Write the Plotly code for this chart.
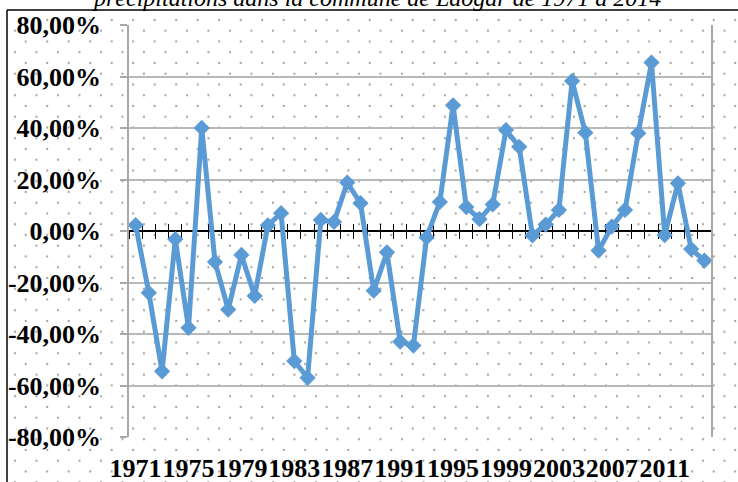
import base64
import plotly.graph_objects as go

# ---- data ----
years = list(range(1971, 2015))
anomalies = [2.3, -24.0, -54.5, -3.2, -37.6, 40.0, -12.0, -30.5, -9.3, -25.2,
             2.2, 6.9, -50.5, -57.0, 4.3, 3.5, 18.8, 10.8, -23.2, -8.3,
             -43.0, -44.5, -2.5, 11.3, 48.8, 9.3, 4.6, 10.3, 39.2, 32.7,
             -1.7, 2.5, 8.2, 58.3, 38.2, -7.6, 1.7, 8.2, 38.0, 65.4,
             -1.6, 18.5, -7.0, -11.5]
x_tick_years = list(range(1971, 2012, 4))
x_tick_labels = [str(y) for y in x_tick_years]
y_tick_values = [80, 60, 40, 20, 0, -20, -40, -60, -80]
y_tick_labels = ["80,00%", "60,00%", "40,00%", "20,00%", "0,00%",
                 "-20,00%", "-40,00%", "-60,00%", "-80,00%"]
boundaries = [y - 0.5 for y in years] + [years[-1] + 0.5]
title_text = "précipitations dans la commune de Laogar de 1971 à 2014"

W, H = 738, 482
ML, MR, MT, MB = 129, 27, 25, 45
PW, PH = W - ML - MR, H - MT - MB


def px_x(p):
    return (p - ML) / PW


def px_y(p):
    return (H - MB - p) / PH


# dotted background pattern (chart-area fill)
fx0, fy0 = 7, 10
fw, fh = W - fx0, H - fy0
svg = f'''<svg xmlns="http://www.w3.org/2000/svg" width="{fw}" height="{fh}" viewBox="0 0 {fw} {fh}" preserveAspectRatio="none">
<defs><pattern id="p" x="18.7" y="10" width="21.5" height="21.5" patternUnits="userSpaceOnUse">
<circle cx="0" cy="0" r="1.1" fill="#a0a0a0"/><circle cx="21.5" cy="0" r="1.1" fill="#a0a0a0"/>
<circle cx="0" cy="21.5" r="1.1" fill="#a0a0a0"/><circle cx="21.5" cy="21.5" r="1.1" fill="#a0a0a0"/>
<circle cx="10.75" cy="10.75" r="1.1" fill="#a0a0a0"/></pattern></defs>
<rect width="{fw}" height="{fh}" fill="white"/><rect width="{fw}" height="{fh}" fill="url(#p)"/></svg>'''
src = "data:image/svg+xml;base64," + base64.b64encode(svg.encode()).decode()

fig = go.Figure()
fig.add_trace(go.Scatter(
    x=years, y=anomalies, mode="lines+markers",
    line=dict(color="#5b9bd5", width=5),
    marker=dict(symbol="diamond", size=12.5, color="#5b9bd5"),
    showlegend=False, hoverinfo="x+y"))
# helper empty traces for cross tick axes
for ax in ("x2", "x3"):
    fig.add_trace(go.Scatter(x=[], y=[], xaxis=ax, yaxis="y", showlegend=False, hoverinfo="skip"))

serif = "Liberation Serif"
common_range = [years[0] - 0.5, years[-1] + 0.5]
fig.update_layout(
    width=W, height=H,
    margin=dict(l=ML, r=MR, t=MT, b=MB),
    paper_bgcolor="white", plot_bgcolor="rgba(0,0,0,0)",
    xaxis=dict(range=common_range, tickvals=x_tick_years, ticktext=x_tick_labels,
               tickangle=0, showgrid=False, zeroline=False, showline=False, ticks="",
               tickfont=dict(family=serif, size=26, color="black", weight="bold"),
               ticklabelstandoff=13, automargin=False),
    xaxis2=dict(range=common_range, overlaying="x", anchor="free", position=0.5,
                tickvals=boundaries, ticks="outside", ticklen=7, tickwidth=1.2,
                tickcolor="black", showticklabels=False, showgrid=False, zeroline=False,
                showline=False, layer="below traces", automargin=False),
    xaxis3=dict(range=common_range, overlaying="x", anchor="free", position=0.5,
                tickvals=boundaries, ticks="inside", ticklen=7, tickwidth=1.2,
                tickcolor="black", showticklabels=False, showgrid=False, zeroline=False,
                showline=False, layer="below traces", automargin=False),
    yaxis=dict(range=[-80, 80], tickvals=y_tick_values, ticktext=y_tick_labels,
               showgrid=True, gridcolor="#b8b8b8", gridwidth=1.5,
               zeroline=True, zerolinecolor="black", zerolinewidth=1.5,
               showline=True, linecolor="#a8a8a8", linewidth=1.5, mirror=True,
               ticks="outside", ticklen=7, tickcolor="#a8a8a8", tickwidth=1.5,
               tickfont=dict(family=serif, size=26, color="black", weight="bold"),
               ticklabelstandoff=14, automargin=False),
    images=[dict(source=src, xref="paper", yref="paper",
                 x=px_x(fx0), y=px_y(fy0), sizex=fw / PW, sizey=fh / PH,
                 xanchor="left", yanchor="top", sizing="stretch", layer="below")],
    shapes=[
        dict(type="line", xref="paper", yref="paper", x0=px_x(fx0), x1=px_x(W + 5),
             y0=px_y(fy0), y1=px_y(fy0), line=dict(color="black", width=1.5)),
        dict(type="line", xref="paper", yref="paper", x0=px_x(fx0), x1=px_x(fx0),
             y0=px_y(fy0), y1=px_y(H + 5), line=dict(color="black", width=1.5)),
    ],
    annotations=[dict(text=title_text, xref="paper", yref="paper", x=px_x(376),
                      y=px_y(13), xanchor="center", yanchor="bottom", showarrow=False,
                      font=dict(family=serif, size=24, color="black", style="italic"))],
)

fig.write_html("out.html")
